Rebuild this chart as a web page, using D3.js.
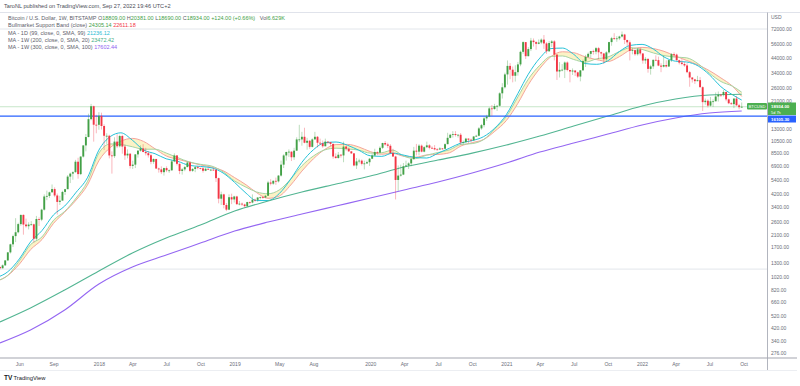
<!DOCTYPE html>
<html>
<head>
<meta charset="utf-8">
<script src="https://cdn.jsdelivr.net/npm/d3@7"></script>
<style>
  body { margin: 0; background: #fff; }
  svg { display: block; font-family: "Liberation Sans", Arial, sans-serif; }
</style>
</head>
<body>
<svg id="chart" width="800" height="386"></svg>
<script>
// Weekly BTC/USD candles (Bitstamp), first week starts Monday 2017-04-10
const firstWeek = "2017-04-10";
const firstOpen = 1206;
const closes = [
  1180,1240,1350, 1550,1780,2050,2190,2520, 2950,2500,2430,2500, 2510,1960,2750,2720,3230, 4050,4090,4350,4600, 4120,3690,3770,4380, 4590,5700,6000,6150,7360, 5950,8040,9740,11250, 15300,19100,13900,13880,
  16200,13600,11500,11500,8200, 8100,10400,9600,11450, 9550,8200,8450,6850, 7000,8350,8900,9250,8700, 8520,8230,7350,7710, 6550,6450,6150,6600, 6350,6350,7400,8200,7100, 6280,6450,6710,7260, 6290,6500,6700,6600, 6570,6300,6520,6420,6420, 6400,5550,3900,4200, 3500,3230,4000,3850,4050,
  3550,3580,3530,3430, 3680,3650,3830,3820, 3980,4000,3980,4100, 5150,5050,5300,5250,5800, 7000,8200,8700,8750, 7950,8900,10800,10800, 11300,10200,10550,9500,10800, 11300,10200,10100,9600, 10400,10300,10000,8050,7850, 8300,8200,9550,9200, 8800,8500,6900,7400, 7500,7100,7150,7300,7750,
  8190,8700,8600,9350, 10150,9900,9680,8550, 8050,5380,5800,5900,6800, 6900,7150,7700,8900, 8750,9700,8750,9450, 9750,9350,9300,9100,9080, 9250,9200,9950,11100, 11700,11850,11650,11700,10250, 10300,10950,10750,10650, 11350,11500,13050,13800, 15500,16000,18400,18200,19150, 19250,23850,26450,33000,
  38200,35800,32250,34300, 39200,48650,57500,45150, 51000,59000,57500,55850,57100, 60000,56200,49100,56600, 58200,46400,34700,35700,35800, 40500,35600,34700,35300, 34200,31800,35400,41500, 44600,47000,49300,48800,51800, 48300,47300,42800,48200, 57500,61500,61300,61300, 63300,65500,59700,57300,49400, 50100,46700,50800,47300,
  41900,43100,36300,37900,42400, 42200,38400,37700,38800, 37800,42200,46800,46400, 42100,40400,39500,38500, 34300,31300,30300,29400,29900, 26500,20500,21000,19300, 20800,20800,22600,23300, 23200,24400,21500,20100,19800, 21800,19400,18809,18934
];
const highs = [
  1215,1260,1355, 1560,1800,2100,2790,2580, 2970,2980,2770,2600, 2650,2540,2900,2830,3280, 4200,4480,4400,4980, 4740,4260,4100,4470, 4620,5850,6100,6250,7600, 7880,8100,9800,11850, 16800,19890,19300,16500,
  17250,17100,14000,12000,11700, 8800,11200,11800,11700, 11700,9900,9100,8500, 7500,8400,9000,9750,9950, 9350,8850,8500,7800, 7750,6650,6800,6650, 6800,6450,7600,8500,8250, 7150,6600,6850,7380, 7400,6600,6800,6850, 6650,6700,6650,6560,6500, 6560,6480,5600,4400, 4250,3620,4200,4250,4100,
  4100,3750,3650,3580, 3700,3720,4200,3900, 4000,4050,4100,4150, 5300,5450,5350,5600,5850, 7500,8370,8750,9100, 8800,9350,11200,13880, 12300,13200,11100,10700,11000, 12300,11450,10950,10600, 10950,10450,10300,10050,8500, 8700,8400,10400,9700, 9400,8800,8500,7850, 7750,7650,7500,7500,7850,
  8450,9200,8800,9600, 10200,10500,10200,9950, 9200,8150,6900,7000,7200, 7500,7300,7800,9500, 10000,9950,9900,9600, 10400,9950,9600,9800,9300, 9450,9300,10100,12100, 11900,12450,12450,11800,12050, 10600,11100,11000,10950, 11450,11700,13350,14100, 15950,16500,18800,19500,19900, 19400,24300,28400,34000,
  41950,40100,37800,38600, 40900,49700,58300,57500, 52700,61800,61200,58400,60200, 61300,64900,57500,58500, 59600,59500,46600,40800,39400, 41300,41300,35700,36600, 35400,34600,35500,42600, 46200,48100,49400,50500,52900, 52900,48800,47500,49200, 57800,62900,67000,63700, 64200,69000,66300,59300,59200, 51900,50800,51900,52100,
  47500,44400,43500,38900,42600, 45800,44800,40000,45400, 42000,42300,47600,48200, 47200,42400,42900,40800, 40000,35000,31400,30600,32200, 31500,26900,21800,21500, 22400,21500,24200,24600, 23600,25200,24500,21800,20500, 21850,22800,19900,20381
];
const lows = [
  1160,1175,1230, 1340,1520,1700,1850,2150, 2450,2100,2370,2300, 2460,1830,1900,2440,2650, 3180,3800,3950,4350, 4000,2970,3500,3870, 4160,4600,5100,5400,6100, 5500,5850,7900,8800, 11200,15000,10400,12000,
  12750,12800,9000,10000,7800, 6000,7850,9300,9400, 8450,7600,7800,6550, 6500,6600,7900,8750,8650, 8200,7900,7050,7100, 6500,6100,5950,5800, 6150,6080,6300,7300,6900, 5950,5900,6250,6700, 6150,6180,6150,6450, 6450,6100,6250,6400,6260, 6300,5200,3600,3500, 3300,3150,3200,3550,3650,
  3500,3480,3450,3350, 3370,3550,3600,3700, 3700,3850,3900,3950, 4100,4900,4950,4950,5150, 5700,6600,7500,8000, 7450,7600,8900,10300, 9700,10100,9050,9200,9400, 10800,9400,9800,9350, 9600,9950,9600,7750,7750, 7750,7900,7300,8900, 8700,8400,6800,6500, 7150,6900,6450,7100,6850,
  7700,8150,8250,8600, 9150,9700,9300,8500, 8000,3850,4450,5700,5850, 6750,6500,6800,7600, 8200,8200,8650,8650, 9300,9100,9200,8950,8950, 9050,9050,9150,9950, 11000,11150,11350,11150,9900, 9900,10250,10150,10400, 10550,11250,11400,12750, 13300,14850,15800,16200,18000, 17600,19000,21800,25900,
  27700,30400,28800,29200, 32300,38000,47000,43000, 45000,49300,53300,50400,55400, 55500,51200,47000,48700, 52900,42000,30000,31300,34800, 31000,34800,28800,32700, 32100,31000,29300,35200, 37500,43800,43900,46400,46600, 43000,44800,39600,40800, 47100,54000,59600,57800, 59500,62300,55600,53600,42000, 46600,45500,45600,45800,
  39700,39600,34000,32900,36300, 41600,38000,34300,37200, 37100,37600,40900,44200, 42000,39200,38600,37600, 33700,26700,28700,28000,29300, 26400,17600,19600,18700, 19000,18900,20800,20700, 22400,22600,20800,19800,19600, 18500,19300,18150,18690
];

// Short moving averages, one value per month start (Apr 2017 .. Sep 2022) plus the last week
const bandEma21 = [
  949,1045,1339,1770,2021,2693,3136,3951,5220,
  8534,9993,9890,9521,9123,9128,8548,7897,7336,7041,6821,6189,
  5286,4749,4379,4244,4528,5471,6868,8120,9028,9291,9163,8989,
  8535,8595,8985,8078,7762,8243,8622,9029,9907,10050,10782,12959,
  16006,22438,30420,38660,44978,45305,42670,40721,43165,44542,48890,52248,
  50742,47643,45575,44468,43879,39590,33669,29220,26957, 24305
];
const bandSma20 = [
  943,1041,1265,1622,1933,2552,3096,3817,4913,
  7500,9413,10478,10991,10435,9191,8130,7678,7304,6965,6698,6307,
  5602,4948,4330,3924,4080,4933,6265,7739,9113,9883,9909,9491,
  8757,8374,8491,8070,7952,8274,8343,8587,9648,10213,10791,12426,
  14939,20091,27652,36565,44826,48696,47957,44674,42543,41196,44804,50370,
  52522,51435,49087,45239,41935,38826,35217,31065,26978, 22611
];
const ma99d = [
  1006,1111,1385,1853,2256,2954,3437,4360,5581,
  8991,11359,12095,10660,9018,8446,7739,7411,6912,6786,6620,6065,
  5159,4281,3776,3778,4255,5467,7286,9044,10204,10327,9763,8971,
  8150,8073,8541,8230,7918,7847,8515,9284,10168,10578,11336,13126,
  16559,23780,33120,43700,51430,51890,46630,39795,39265,41735,48915,54370,
  55300,50870,44570,41405,40845,38140,32820,26740,23285, 21236
];

// Long moving averages, quarterly samples
const longDates = ["2017-04-10","2017-07-01","2017-10-01","2018-01-01","2018-04-01","2018-07-01","2018-10-01",
  "2019-01-01","2019-04-01","2019-07-01","2019-10-01","2020-01-01","2020-04-01","2020-07-01","2020-10-01",
  "2021-01-01","2021-04-01","2021-07-01","2021-10-01","2022-01-01","2022-04-01","2022-07-01","2022-09-26"];
const ma200w = [469,596,811,1125,1532,1984,2479,3155,3748,4372,5020,5755,6716,7572,8537,9800,11440,13580,16130,19150,21600,23150,23472];
const ma300w = [327,408,576,900,1205,1481,1820,2236,2611,2996,3438,3944,4528,5194,6063,7196,8690,10140,11840,13830,15590,16990,17602];

// Horizontal levels
const greyLevels = [72000, 1163];
const lastPrice = 18934;
const blueLevel = 16105.30;

// Axis labels
const priceTicks = [72000,56000,44000,34000,26000,21000,13000,10500,8500,6900,5400,4200,3400,2600,2100,1700,1300,1020,820,660,520,420,340,276];
const timeTicks = ["2017-06-01","2017-09-01","2018-01-01","2018-04-01","2018-07-01","2018-10-01","2019-01-01","2019-05-01","2019-08-01",
  "2020-01-01","2020-04-01","2020-07-01","2020-10-01","2021-01-01","2021-04-01","2021-07-01","2021-10-01","2022-01-01","2022-04-01","2022-07-01","2022-10-01"];
const timeLabels = ["Jun","Sep","2018","Apr","Jul","Oct","2019","May","Aug","2020","Apr","Jul","Oct","2021","Apr","Jul","Oct","2022","Apr","Jul","Oct"];

const parse = s => new Date(s + "T00:00:00");
const svg = d3.select("#chart");
const plot = { left: 0, right: 767, top: 13, bottom: 357 };

const x = d3.scaleTime()
  .domain([new Date(2017, 3, 10), new Date(2022, 11, 3)])
  .range([plot.left, plot.right]);
const y = d3.scaleLog()
  .domain([256.7, 94830])
  .range([plot.bottom, plot.top]);

svg.append("rect").attr("width", 800).attr("height", 386).attr("fill", "#fff");

svg.append("clipPath").attr("id", "clip")
  .append("rect")
  .attr("x", plot.left).attr("y", plot.top)
  .attr("width", plot.right - plot.left).attr("height", plot.bottom - plot.top);

const g = svg.append("g").attr("clip-path", "url(#clip)");

// Horizontal reference lines
g.selectAll(".lvl")
  .data(greyLevels)
  .enter()
  .append("line")
  .attr("x1", plot.left).attr("x2", plot.right)
  .attr("y1", d => y(d)).attr("y2", d => y(d))
  .attr("stroke", "#dcdfe6").attr("stroke-width", 0.8);

g.append("line")
  .attr("x1", plot.left).attr("x2", plot.right)
  .attr("y1", y(lastPrice)).attr("y2", y(lastPrice))
  .attr("stroke", "#b9dfbb").attr("stroke-width", 0.8);

// Bull market support band
const bandDates = d3.timeMonth.range(new Date(2017, 3, 1), new Date(2022, 9, 1)).concat([new Date(2022, 8, 26)]);
const band = bandDates.map((d, i) => ({ date: d, ema: bandEma21[i], sma: bandSma20[i], ma99: ma99d[i] }));

g.append("path")
  .datum(band)
  .attr("d", d3.area().curve(d3.curveMonotoneX)
    .x(d => x(d.date)).y0(d => y(d.sma)).y1(d => y(d.ema)))
  .attr("fill", "#fbefb8").attr("opacity", 0.8);

const lineOf = key => d3.line().curve(d3.curveMonotoneX).x(d => x(d.date)).y(d => y(d[key]));

g.append("path").datum(band).attr("d", lineOf("sma"))
  .attr("fill", "none").attr("stroke", "#f5a49c").attr("stroke-width", 1);
g.append("path").datum(band).attr("d", lineOf("ema"))
  .attr("fill", "none").attr("stroke", "#a6d4a3").attr("stroke-width", 1);
g.append("path").datum(band).attr("d", lineOf("ma99"))
  .attr("fill", "none").attr("stroke", "#26c2d8").attr("stroke-width", 1);

// 200W and 300W moving averages
const longMa = longDates.map((d, i) => ({ date: parse(d), ma200: ma200w[i], ma300: ma300w[i] }));
g.append("path").datum(longMa).attr("d", lineOf("ma200"))
  .attr("fill", "none").attr("stroke", "#52b592").attr("stroke-width", 1.1);
g.append("path").datum(longMa).attr("d", lineOf("ma300"))
  .attr("fill", "none").attr("stroke", "#9466f2").attr("stroke-width", 1.1);

// Blue horizontal line
g.append("line")
  .attr("x1", plot.left).attr("x2", plot.right)
  .attr("y1", y(blueLevel)).attr("y2", y(blueLevel))
  .attr("stroke", "#2962ff").attr("stroke-width", 1.4);

// Candles
const start = parse(firstWeek);
const candles = closes.map((c, i) => ({
  date: d3.timeDay.offset(start, 7 * i),
  open: i === 0 ? firstOpen : closes[i - 1],
  high: highs[i], low: lows[i], close: c
}));
const upColor = "#43a047", downColor = "#f23645";
const bw = 1.9;

g.selectAll(".wick")
  .data(candles)
  .enter()
  .append("line")
  .attr("x1", d => x(d.date)).attr("x2", d => x(d.date))
  .attr("y1", d => y(d.high)).attr("y2", d => y(d.low))
  .attr("stroke", d => d.close >= d.open ? upColor : downColor)
  .attr("stroke-opacity", 0.45)
  .attr("stroke-width", 0.8);

g.selectAll(".body")
  .data(candles)
  .enter()
  .append("rect")
  .attr("x", d => x(d.date) - bw / 2)
  .attr("y", d => y(Math.max(d.open, d.close)))
  .attr("width", bw)
  .attr("height", d => Math.max(0.8, y(Math.min(d.open, d.close)) - y(Math.max(d.open, d.close))))
  .attr("fill", d => d.close >= d.open ? upColor : downColor);

// Frame lines
svg.append("line").attr("x1", 0).attr("x2", 800).attr("y1", 12.5).attr("y2", 12.5).attr("stroke", "#e0e3eb");
svg.append("line").attr("x1", plot.right + 0.5).attr("x2", plot.right + 0.5).attr("y1", 12.5).attr("y2", 371).attr("stroke", "#b2b5be");
svg.append("line").attr("x1", 0).attr("x2", 797).attr("y1", 358).attr("y2", 358).attr("stroke", "#a3a6af").attr("stroke-width", 1.2);
svg.append("line").attr("x1", 0).attr("x2", 797).attr("y1", 370.5).attr("y2", 370.5).attr("stroke", "#eceef2");

// Price axis
const yAxis = svg.append("g")
  .attr("transform", `translate(${plot.right}, 0)`)
  .call(d3.axisRight(y).tickValues(priceTicks).tickFormat(d3.format(".2f")).tickSize(0).tickPadding(4));
yAxis.select(".domain").remove();
yAxis.selectAll("text").attr("font-size", 5).attr("fill", "#6a6d78").attr("font-family", "Liberation Sans, Arial, sans-serif");

svg.append("text").attr("x", 771).attr("y", 19).attr("font-size", 5).attr("fill", "#6a6d78").text("USD");

// Time axis
const xAxis = svg.append("g")
  .attr("transform", `translate(0, ${plot.bottom + 1})`)
  .call(d3.axisBottom(x).tickValues(timeTicks.map(parse)).tickFormat((d, i) => timeLabels[i]).tickSize(0).tickPadding(4));
xAxis.select(".domain").remove();
xAxis.selectAll("text").attr("font-size", 5).attr("fill", "#6a6d78").attr("font-family", "Liberation Sans, Arial, sans-serif");

// Price labels on the right
const lab = svg.append("g").attr("fill", "#fff");
lab.append("rect").attr("x", 747).attr("y", 103).attr("width", 20).attr("height", 6.5).attr("fill", "#4caf50").attr("rx", 1);
lab.append("text").attr("x", 757).attr("y", 107.8).attr("text-anchor", "middle").attr("font-size", 4.2).text("BTCUSD");
lab.append("rect").attr("x", 768).attr("y", 102.5).attr("width", 28).attr("height", 12.5).attr("fill", "#4caf50");
lab.append("text").attr("x", 771).attr("y", 107.6).attr("font-size", 4.4).attr("font-weight", "bold").text(d3.format(".2f")(lastPrice));
lab.append("text").attr("x", 771).attr("y", 113.6).attr("font-size", 3.9).text("5d 7h");
lab.append("rect").attr("x", 768).attr("y", 115.5).attr("width", 28).attr("height", 7).attr("fill", "#2962ff");
lab.append("text").attr("x", 771).attr("y", 120.7).attr("font-size", 4.4).attr("font-weight", "bold").text(d3.format(".2f")(blueLevel));

// Header and legend
svg.append("text").attr("x", 4).attr("y", 8).attr("font-size", 5.6).attr("fill", "#4a4d57")
  .text("TaroNL published on TradingView.com, Sep 27, 2022 19:46 UTC+2");

const legendRows = [
  [["Bitcoin / U.S. Dollar, 1W, BITSTAMP ", "#5d606b"], ["O", "#5d606b"], ["18809.00 ", "#43a047"], ["H", "#5d606b"], ["20381.00 ", "#43a047"],
   ["L", "#5d606b"], ["18690.00 ", "#43a047"], ["C", "#5d606b"], ["18934.00 +124.00 (+0.66%)   ", "#43a047"], ["Vol", "#5d606b"], ["6.629K", "#43a047"]],
  [["Bullmarket Support Band (close) ", "#5d606b"], ["24305.14 ", "#43a047"], ["22611.18", "#f23645"]],
  [["MA - 1D (99, close, 0, SMA, 99) ", "#5d606b"], ["21236.12", "#1fbcd2"]],
  [["MA - 1W (200, close, 0, SMA, 20) ", "#5d606b"], ["23472.42", "#3fae86"]],
  [["MA - 1W (300, close, 0, SMA, 100) ", "#5d606b"], ["17602.44", "#9061f0"]]
];
legendRows.forEach((row, r) => {
  const t = svg.append("text")
    .attr("x", 8).attr("y", 19.7 + r * 7.4)
    .attr("font-size", 5.5)
    .attr("xml:space", "preserve");
  row.forEach(([s, c]) => t.append("tspan").attr("fill", c).text(s));
});

// TradingView logo
svg.append("text").attr("x", 4).attr("y", 380).attr("font-size", 6.5).attr("font-weight", "bold").attr("fill", "#131722").text("TV");
svg.append("text").attr("x", 13.5).attr("y", 380).attr("font-size", 5.8).attr("fill", "#131722").text("TradingView");
</script>
</body>
</html>
